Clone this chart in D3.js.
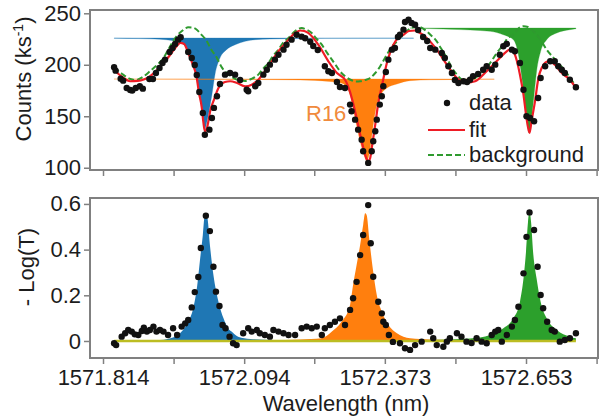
<!DOCTYPE html>
<html>
<head>
<meta charset="utf-8">
<script src="https://cdn.jsdelivr.net/npm/d3@7"></script>
<style>
body { margin: 0; background: #fff; }
text { font-family: "Liberation Sans", Arial, sans-serif; fill: #1c1c1c; }
</style>
</head>
<body>
<div id="chart"></div>
<script>
// x ticks (nm) and the ones that carry a label
const xTicks = [1571.814, 1571.954, 1572.094, 1572.233, 1572.373, 1572.513, 1572.653, 1572.793];
const xLabelled = [1571.814, 1572.094, 1572.373, 1572.653];
const countTicks = [100, 150, 200, 250];
const absTicks = [0, 0.2, 0.4, 0.6];

// top panel: measured counts (ks-1) vs wavelength
const countsData = [[1571.836,197.6],[1571.839,194.3],[1571.849,186.5],[1571.854,184.6],[1571.861,177.5],[1571.868,175.5],[1571.872,174.9],[1571.879,177.5],[1571.887,179.1],[1571.893,176.8],[1571.906,186.2],[1571.913,186.2],[1571.919,192.0],[1571.926,196.9],[1571.932,201.7],[1571.937,205.0],[1571.946,212.4],[1571.952,216.3],[1571.957,220.2],[1571.963,224.4],[1571.968,226.7],[1571.983,212.4],[1571.990,206.6],[1571.996,199.8],[1572.000,190.1],[1572.005,173.6],[1572.012,153.2],[1572.016,132.1],[1572.025,137.0],[1572.030,148.3],[1572.034,158.1],[1572.040,169.4],[1572.046,181.4],[1572.056,190.4],[1572.066,192.0],[1572.076,190.4],[1572.086,185.2],[1572.099,175.8],[1572.102,174.3],[1572.116,179.1],[1572.122,182.3],[1572.132,190.4],[1572.139,195.2],[1572.145,200.1],[1572.155,205.0],[1572.162,209.8],[1572.172,214.7],[1572.178,219.5],[1572.188,224.4],[1572.198,229.2],[1572.208,227.3],[1572.215,225.7],[1572.225,222.4],[1572.231,218.3],[1572.240,214.4],[1572.254,198.5],[1572.261,193.7],[1572.268,192.0],[1572.278,183.3],[1572.284,178.4],[1572.294,177.5],[1572.304,161.3],[1572.307,154.9],[1572.314,146.7],[1572.320,137.0],[1572.327,127.3],[1572.330,116.0],[1572.340,104.7],[1572.347,116.0],[1572.350,125.7],[1572.354,135.4],[1572.357,146.7],[1572.363,161.3],[1572.367,169.4],[1572.370,179.1],[1572.375,193.0],[1572.380,205.0],[1572.387,214.7],[1572.393,216.3],[1572.399,227.0],[1572.403,229.2],[1572.410,234.1],[1572.413,241.6],[1572.420,243.8],[1572.426,240.6],[1572.433,238.9],[1572.439,233.8],[1572.449,227.0],[1572.457,223.1],[1572.463,216.3],[1572.473,214.7],[1572.486,211.5],[1572.492,206.6],[1572.499,198.5],[1572.506,192.0],[1572.512,185.2],[1572.519,182.3],[1572.529,184.0],[1572.536,183.3],[1572.542,185.5],[1572.548,188.8],[1572.558,191.1],[1572.568,195.2],[1572.575,198.5],[1572.585,195.2],[1572.592,200.1],[1572.601,209.8],[1572.608,218.0],[1572.615,220.2],[1572.625,214.7],[1572.631,213.1],[1572.641,201.7],[1572.648,175.8],[1572.654,150.0],[1572.661,148.3],[1572.669,145.1],[1572.677,167.8],[1572.682,187.2],[1572.691,198.5],[1572.701,203.4],[1572.710,203.4],[1572.717,198.5],[1572.724,195.2],[1572.730,192.0],[1572.740,185.5],[1572.752,178.2]];

// top panel: fit curve
const fitData = [[1571.836,195.2],[1571.852,188.2],[1571.868,184.0],[1571.883,184.3],[1571.907,188.8],[1571.934,201.7],[1571.947,209.5],[1571.960,218.0],[1571.967,221.2],[1571.975,220.2],[1571.983,211.5],[1571.991,201.7],[1572.000,187.2],[1572.004,173.6],[1572.010,158.1],[1572.013,144.5],[1572.016,135.4],[1572.019,136.7],[1572.023,145.1],[1572.027,156.1],[1572.033,164.6],[1572.043,177.5],[1572.056,183.3],[1572.066,184.0],[1572.080,182.3],[1572.096,179.1],[1572.109,180.7],[1572.122,185.5],[1572.142,198.5],[1572.162,213.1],[1572.182,224.4],[1572.195,230.9],[1572.205,233.3],[1572.213,232.8],[1572.221,230.9],[1572.241,219.5],[1572.261,203.4],[1572.278,192.0],[1572.294,185.5],[1572.304,173.6],[1572.310,162.9],[1572.317,148.3],[1572.327,126.0],[1572.336,109.5],[1572.340,106.3],[1572.344,109.5],[1572.347,119.2],[1572.354,141.8],[1572.360,162.9],[1572.367,179.1],[1572.377,201.7],[1572.390,219.5],[1572.399,226.0],[1572.410,229.2],[1572.421,232.8],[1572.433,233.3],[1572.443,230.9],[1572.456,226.0],[1572.476,214.7],[1572.496,200.1],[1572.516,187.2],[1572.532,182.3],[1572.552,184.0],[1572.575,193.7],[1572.601,206.6],[1572.613,212.4],[1572.621,214.7],[1572.627,213.4],[1572.631,209.8],[1572.641,190.4],[1572.648,171.0],[1572.654,148.3],[1572.660,133.8],[1572.664,145.4],[1572.671,164.9],[1572.677,185.5],[1572.684,196.9],[1572.697,203.4],[1572.710,200.1],[1572.724,192.0],[1572.740,185.5],[1572.752,177.5]];

// top panel: background (dashed)
const bgData = [[1571.836,197.6],[1571.852,191.1],[1571.868,186.2],[1571.879,185.2],[1571.893,188.2],[1571.907,193.7],[1571.921,199.8],[1571.934,206.6],[1571.943,214.4],[1571.953,222.8],[1571.961,228.4],[1571.970,232.5],[1571.977,235.2],[1571.983,236.4],[1571.991,236.2],[1572.000,234.1],[1572.008,229.9],[1572.020,222.8],[1572.028,215.3],[1572.040,206.6],[1572.048,198.8],[1572.059,192.0],[1572.070,188.2],[1572.082,185.2],[1572.096,184.3],[1572.108,186.2],[1572.122,190.4],[1572.131,195.9],[1572.142,201.7],[1572.151,208.5],[1572.162,214.7],[1572.171,221.2],[1572.182,226.0],[1572.193,231.8],[1572.201,234.8],[1572.208,235.7],[1572.217,234.3],[1572.228,230.9],[1572.236,226.0],[1572.248,219.5],[1572.256,213.4],[1572.268,205.0],[1572.278,197.9],[1572.287,192.0],[1572.296,188.2],[1572.306,185.2],[1572.316,183.8],[1572.324,184.0],[1572.334,185.2],[1572.344,187.2],[1572.354,192.0],[1572.363,197.9],[1572.377,209.8],[1572.385,216.3],[1572.397,222.8],[1572.405,228.0],[1572.416,232.5],[1572.425,235.7],[1572.436,237.4],[1572.445,236.2],[1572.456,232.5],[1572.465,228.4],[1572.476,222.8],[1572.484,216.3],[1572.496,206.6],[1572.504,198.8],[1572.516,190.4],[1572.524,186.2],[1572.532,184.0],[1572.542,185.2],[1572.552,187.2],[1572.564,192.0],[1572.575,196.9],[1572.586,204.7],[1572.595,211.5],[1572.608,219.5],[1572.617,226.0],[1572.628,229.2],[1572.637,234.8],[1572.648,237.4],[1572.657,236.7],[1572.663,234.8],[1572.671,230.9],[1572.681,225.0],[1572.694,214.7],[1572.706,207.6],[1572.720,200.1],[1572.732,193.0],[1572.742,186.2],[1572.752,179.1]];

// top panel: the three line components, hanging from their own levels
const blueLevel = 226.0;
const blueDip = [[1571.836,225.8],[1571.887,225.4],[1571.927,224.8],[1571.951,223.6],[1571.967,222.1],[1571.983,213.1],[1571.993,200.1],[1572.003,177.5],[1572.010,158.1],[1572.013,146.4],[1572.016,137.0],[1572.019,142.5],[1572.023,151.6],[1572.030,171.0],[1572.036,190.4],[1572.046,206.6],[1572.059,214.7],[1572.076,219.5],[1572.096,222.8],[1572.116,224.4],[1572.145,225.0],[1572.205,225.5],[1572.304,225.7],[1572.430,225.8]];
const orangeLevel = 186.2;
const orangeDip = [[1571.836,186.1],[1572.106,185.7],[1572.205,185.3],[1572.264,183.8],[1572.284,182.5],[1572.294,180.4],[1572.304,170.9],[1572.314,148.3],[1572.324,125.7],[1572.334,109.5],[1572.337,106.3],[1572.344,119.2],[1572.350,141.8],[1572.357,161.3],[1572.367,172.6],[1572.377,177.5],[1572.397,181.4],[1572.423,184.6],[1572.463,185.4],[1572.542,185.8],[1572.590,186.0]];
const greenLevel = 235.7;
const greenDip = [[1572.423,235.6],[1572.502,234.5],[1572.582,232.5],[1572.608,229.2],[1572.628,224.4],[1572.638,209.8],[1572.644,190.4],[1572.650,167.8],[1572.654,148.3],[1572.659,133.8],[1572.664,148.3],[1572.669,171.0],[1572.674,193.7],[1572.682,213.1],[1572.694,224.4],[1572.714,230.9],[1572.740,234.1],[1572.752,235.0]];

// bottom panel: -Log(T) data
const absData = [[1571.836,-0.010],[1571.840,-0.018],[1571.851,0.019],[1571.858,0.034],[1571.864,0.048],[1571.871,0.041],[1571.877,0.029],[1571.884,0.026],[1571.891,0.044],[1571.895,0.058],[1571.901,0.041],[1571.907,0.048],[1571.914,0.063],[1571.920,0.041],[1571.927,0.048],[1571.934,0.041],[1571.943,0.026],[1571.953,0.056],[1571.961,0.026],[1571.970,0.063],[1571.977,0.077],[1571.983,0.092],[1571.990,0.147],[1571.996,0.214],[1572.003,0.280],[1572.008,0.407],[1572.018,0.548],[1572.026,0.481],[1572.033,0.325],[1572.038,0.216],[1572.045,0.153],[1572.051,0.070],[1572.057,0.056],[1572.065,0.019],[1572.072,-0.010],[1572.079,-0.018],[1572.092,0.034],[1572.102,0.056],[1572.109,0.041],[1572.119,0.048],[1572.125,0.034],[1572.135,0.026],[1572.145,0.019],[1572.152,0.048],[1572.162,0.041],[1572.172,0.034],[1572.182,0.026],[1572.195,0.026],[1572.208,0.056],[1572.218,0.063],[1572.228,0.056],[1572.238,0.063],[1572.248,0.026],[1572.254,0.056],[1572.264,0.070],[1572.274,0.084],[1572.284,0.099],[1572.294,0.070],[1572.304,0.136],[1572.310,0.187],[1572.317,0.259],[1572.324,0.376],[1572.330,0.464],[1572.340,0.595],[1572.345,0.428],[1572.350,0.281],[1572.360,0.172],[1572.367,0.121],[1572.370,0.084],[1572.375,0.070],[1572.381,0.026],[1572.389,-0.004],[1572.403,-0.010],[1572.413,-0.032],[1572.423,-0.039],[1572.433,-0.018],[1572.446,-0.003],[1572.463,0.041],[1572.469,0.012],[1572.476,-0.018],[1572.489,-0.025],[1572.496,-0.003],[1572.502,0.012],[1572.516,0.034],[1572.525,0.019],[1572.535,-0.003],[1572.545,-0.009],[1572.555,0.012],[1572.565,-0.003],[1572.575,-0.010],[1572.585,0.026],[1572.592,0.041],[1572.598,0.048],[1572.605,-0.003],[1572.615,0.026],[1572.625,0.063],[1572.631,0.092],[1572.638,0.150],[1572.648,0.296],[1572.654,0.456],[1572.660,0.563],[1572.669,0.486],[1572.676,0.325],[1572.682,0.201],[1572.687,0.143],[1572.695,0.084],[1572.704,0.048],[1572.710,0.041],[1572.720,-0.003],[1572.730,0.004],[1572.740,0.012],[1572.752,0.034]];

// bottom panel: absorbance of each line
const blueAbs = [[1571.836,0.000],[1571.927,0.004],[1571.957,0.018],[1571.970,0.041],[1571.983,0.084],[1571.993,0.143],[1572.001,0.245],[1572.006,0.347],[1572.012,0.464],[1572.016,0.551],[1572.021,0.537],[1572.026,0.420],[1572.033,0.289],[1572.043,0.172],[1572.053,0.099],[1572.062,0.056],[1572.069,0.041],[1572.082,0.019],[1572.106,0.009],[1572.205,0.002],[1572.443,0.000]];
const orangeAbs = [[1571.836,0.000],[1572.106,0.002],[1572.205,0.007],[1572.248,0.012],[1572.268,0.041],[1572.287,0.084],[1572.304,0.158],[1572.310,0.245],[1572.317,0.333],[1572.324,0.420],[1572.330,0.508],[1572.334,0.559],[1572.337,0.551],[1572.342,0.449],[1572.349,0.318],[1572.357,0.201],[1572.367,0.128],[1572.380,0.070],[1572.397,0.034],[1572.423,0.012],[1572.463,0.007],[1572.542,0.003],[1572.600,0.001]];
const greenAbs = [[1572.423,0.003],[1572.542,0.011],[1572.582,0.026],[1572.608,0.056],[1572.628,0.099],[1572.641,0.172],[1572.648,0.274],[1572.653,0.391],[1572.657,0.522],[1572.660,0.566],[1572.663,0.522],[1572.667,0.391],[1572.674,0.274],[1572.682,0.172],[1572.694,0.099],[1572.714,0.048],[1572.740,0.019],[1572.752,0.012]];
const zeroSpan = [1571.836, 1572.752];

const colBlue = "#1f77b4", colOrange = "#ff7f0e", colGreen = "#2ca02c";
const frameCol = "#808080";
const fs = 22;

const width = 605, height = 418;
const svg = d3.select("#chart").append("svg")
    .attr("width", width)
    .attr("height", height);

const x = d3.scaleLinear().domain([1571.7882, 1572.7958]).range([90, 598]);
const yTop = d3.scaleLinear().domain([97.8, 253.2]).range([170, 10]);
const yBot = d3.scaleLinear().domain([-0.0745, 0.626]).range([358, 198]);

// ---- top panel ----
const topG = svg.append("g");

function dipArea(level, ys) {
    return d3.area()
        .x(d => x(d[0]))
        .y0(ys(level))
        .y1(d => ys(d[1]))
        .curve(d3.curveMonotoneX);
}

[[blueDip, blueLevel, colBlue], [orangeDip, orangeLevel, colOrange], [greenDip, greenLevel, colGreen]]
    .forEach(([dat, lvl, col]) => {
        topG.append("path")
            .datum(dat)
            .attr("d", dipArea(lvl, yTop))
            .attr("fill", col)
            .attr("stroke", col)
            .attr("stroke-opacity", 0.3)
            .attr("stroke-width", 1);
    });

const lineTop = d3.line().x(d => x(d[0])).y(d => yTop(d[1])).curve(d3.curveMonotoneX);

topG.append("path")
    .datum(bgData)
    .attr("d", lineTop)
    .attr("fill", "none")
    .attr("stroke", "#2f9a2f")
    .attr("stroke-width", 2)
    .attr("stroke-dasharray", "6,3");

topG.append("path")
    .datum(fitData)
    .attr("d", lineTop)
    .attr("fill", "none")
    .attr("stroke", "#ee1c25")
    .attr("stroke-width", 2.2);

topG.selectAll("circle")
    .data(countsData)
    .enter().append("circle")
    .attr("cx", d => x(d[0]))
    .attr("cy", d => yTop(d[1]))
    .attr("r", 3.2)
    .attr("fill", "#111");

topG.append("rect")
    .attr("x", 90).attr("y", 10)
    .attr("width", 508).attr("height", 160)
    .attr("fill", "none")
    .attr("stroke", frameCol)
    .attr("stroke-width", 2);

// ---- bottom panel ----
const botG = svg.append("g");

[[blueAbs, colBlue], [orangeAbs, colOrange], [greenAbs, colGreen]].forEach(([dat, col]) => {
    botG.append("path")
        .datum(dat)
        .attr("d", dipArea(0, yBot))
        .attr("fill", col);
});

botG.append("line")
    .attr("x1", x(zeroSpan[0])).attr("x2", x(zeroSpan[1]))
    .attr("y1", yBot(0)).attr("y2", yBot(0))
    .attr("stroke", "#bcbd22")
    .attr("stroke-width", 2.5);

botG.selectAll("circle")
    .data(absData)
    .enter().append("circle")
    .attr("cx", d => x(d[0]))
    .attr("cy", d => yBot(d[1]))
    .attr("r", 3.2)
    .attr("fill", "#111");

botG.append("rect")
    .attr("x", 90).attr("y", 198)
    .attr("width", 508).attr("height", 160)
    .attr("fill", "none")
    .attr("stroke", frameCol)
    .attr("stroke-width", 2);

// ---- axes ----
function styleAxis(g) {
    g.select(".domain").remove();
    g.selectAll(".tick line").attr("stroke", frameCol).attr("stroke-width", 1.5);
    g.selectAll(".tick text")
        .attr("font-size", fs)
        .attr("font-family", "Liberation Sans, Arial, sans-serif")
        .attr("fill", "#1c1c1c");
}

svg.append("g")
    .attr("transform", "translate(89,0)")
    .call(d3.axisLeft(yTop).tickValues(countTicks).tickSize(5).tickPadding(3))
    .call(styleAxis);

svg.append("g")
    .attr("transform", "translate(89,0)")
    .call(d3.axisLeft(yBot).tickValues(absTicks).tickSize(5).tickPadding(3)
        .tickFormat(d => d === 0 ? "0" : d3.format(".1f")(d)))
    .call(styleAxis);

svg.append("g")
    .attr("transform", "translate(0,171)")
    .call(d3.axisBottom(x).tickValues(xTicks).tickSize(5).tickFormat(""))
    .call(styleAxis);

svg.append("g")
    .attr("transform", "translate(0,359)")
    .call(d3.axisBottom(x).tickValues(xTicks).tickSize(5).tickPadding(5)
        .tickFormat(d => xLabelled.includes(d) ? d3.format(".3f")(d) : ""))
    .call(styleAxis);

// ---- titles ----
const yTitle = svg.append("text")
    .attr("transform", "translate(31,79) rotate(-90)")
    .attr("text-anchor", "middle")
    .attr("font-size", fs);
yTitle.append("tspan").text("Counts (ks");
yTitle.append("tspan").attr("font-size", 14).attr("dy", -8).text("-1");
yTitle.append("tspan").attr("dy", 8).text(")");

svg.append("text")
    .attr("transform", "translate(34,267) rotate(-90)")
    .attr("text-anchor", "middle")
    .attr("font-size", fs)
    .text("- Log(T)");

svg.append("text")
    .attr("x", 346).attr("y", 411)
    .attr("text-anchor", "middle")
    .attr("font-size", fs)
    .text("Wavelength (nm)");

svg.append("text")
    .attr("x", 306).attr("y", 121)
    .attr("font-size", fs)
    .style("fill", "#f08a3c")
    .text("R16");

// ---- legend ----
const leg = svg.append("g").attr("font-size", fs);
leg.append("circle").attr("cx", 447).attr("cy", 103).attr("r", 3.2).attr("fill", "#111");
leg.append("text").attr("x", 469).attr("y", 110).text("data");
leg.append("line").attr("x1", 428).attr("x2", 465).attr("y1", 130).attr("y2", 130)
    .attr("stroke", "#ee1c25").attr("stroke-width", 2.2);
leg.append("text").attr("x", 469).attr("y", 137).text("fit");
leg.append("line").attr("x1", 428).attr("x2", 465).attr("y1", 155).attr("y2", 155)
    .attr("stroke", "#2f9a2f").attr("stroke-width", 2).attr("stroke-dasharray", "6,3");
leg.append("text").attr("x", 469).attr("y", 162).text("background");
</script>
</body>
</html>
